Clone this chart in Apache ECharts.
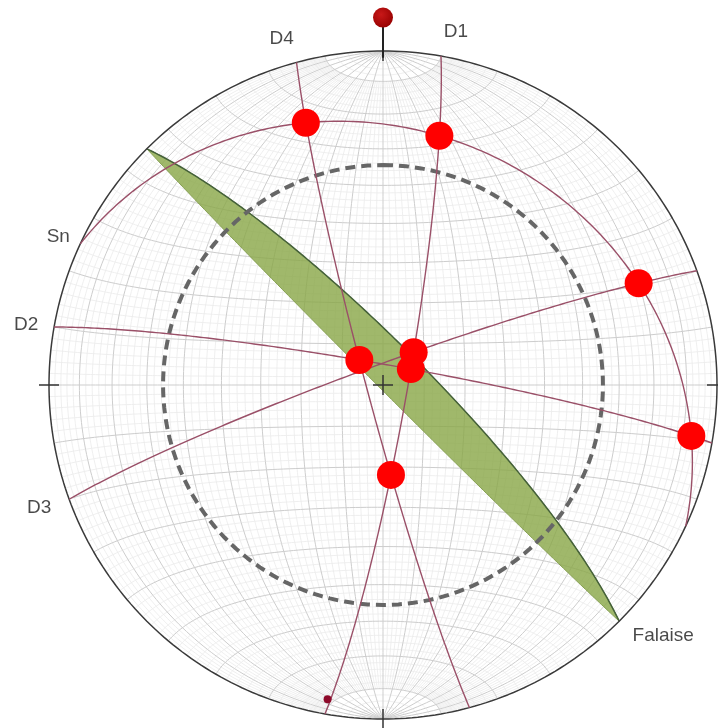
<!DOCTYPE html>
<html><head><meta charset="utf-8">
<script src="https://cdn.jsdelivr.net/npm/echarts/dist/echarts.min.js"></script>
<style>html,body{margin:0;padding:0;background:#fff}#chart{width:718px;height:728px}</style>
</head><body><div id="chart"></div>
<script>
// Discontinuity planes: dip direction / dip (degrees)
const planeNames   = ['D1', 'D2', 'D3', 'D4', 'Sn', 'Falaise'];
const planeDipDirs = [100, 10, 340, 255, 25, 45];
const planeDips    = [84, 85, 85, 86, 25, 80];

// Second boundary of the shaded slope zone (same strike as the slope face)
const zoneEdgeDipDir = 225;
const zoneEdgeDip = 89;

// Intersection lines plotted as large dots
const intersectionPairs = [
  ['D4', 'Sn'], ['D1', 'Sn'], ['D3', 'Sn'], ['D2', 'Sn'],
  ['D4', 'D2'], ['D1', 'D3'], ['D1', 'D2'], ['D1', 'D4']
];

// Single lineation: trend / plunge
const lineTrends = [190];
const linePlunges = [5];

// Friction angle (degrees) of the friction cone
const frictionAngle = 34.5;

// ---------- lower-hemisphere equal-area projection ----------
const D2R = Math.PI / 180;
function lineVec(trend, plunge) {
  const t = trend * D2R, p = plunge * D2R;
  return [Math.cos(p) * Math.sin(t), Math.cos(p) * Math.cos(t), Math.sin(p)]; // E, N, Down
}
function project(v) {
  let [e, n, d] = v;
  if (d < 0) { e = -e; n = -n; d = -d; }
  const h = Math.hypot(e, n);
  if (h < 1e-12) return [0, 0];
  const r = Math.SQRT2 * Math.sin(Math.acos(Math.min(1, d)) / 2);
  return [r * e / h, r * n / h];
}
function combo(a, b, ca, cb) { return [0, 1, 2].map(k => a[k] * ca + b[k] * cb); }
function greatCircle(dd, dip, n) {
  n = n || 180;
  const s = lineVec(dd - 90, 0), v = lineVec(dd, dip), pts = [];
  for (let i = 0; i <= n; i++) {
    const th = i / n * Math.PI;
    pts.push(project(combo(s, v, Math.cos(th), Math.sin(th))));
  }
  return pts;
}
function cross(a, b) { return [a[1]*b[2]-a[2]*b[1], a[2]*b[0]-a[0]*b[2], a[0]*b[1]-a[1]*b[0]]; }
function planeNormal(dd, dip) { return lineVec(dd + 180, 90 - dip); }

// ---------- reference net (Schmidt, N-S axis, 2 deg) ----------
const N = [0, 1, 0], E = [1, 0, 0], Dn = [0, 0, 1];
const fineNet = [], boldNet = [];
for (let a = 2; a < 180; a += 2) {
  // meridian: plane containing the N-S axis
  const w = combo(E, Dn, Math.cos(a * D2R), Math.sin(a * D2R));
  const bold = a % 10 === 0;
  const lo = bold ? 0 : 10, hi = bold ? 180 : 170;
  const mer = [];
  for (let t = lo; t <= hi; t += 1) mer.push(project(combo(N, w, Math.cos(t * D2R), Math.sin(t * D2R))));
  (bold ? boldNet : fineNet).push({ coords: mer });
  // parallel: small circle about the N-S axis
  const par = [];
  for (let f = 0; f <= 180; f += 1.5) {
    const ring = combo(E, Dn, Math.cos(f * D2R), Math.sin(f * D2R));
    par.push(project(combo(N, ring, Math.cos(a * D2R), Math.sin(a * D2R))));
  }
  (bold ? boldNet : fineNet).push({ coords: par });
}
const primitive = [];
for (let t = 0; t <= 360; t += 1) primitive.push([Math.sin(t * D2R), Math.cos(t * D2R)]);
const frictionCircle = [];
for (let t = 0; t <= 360; t += 2) frictionCircle.push(project(lineVec(t, frictionAngle)));

// ---------- derived geometry ----------
const circles = planeNames.map((nm, i) => greatCircle(planeDipDirs[i], planeDips[i]));
const idx = nm => planeNames.indexOf(nm);
const dots = intersectionPairs.map(([a, b]) => {
  const ia = idx(a), ib = idx(b);
  const v = cross(planeNormal(planeDipDirs[ia], planeDips[ia]), planeNormal(planeDipDirs[ib], planeDips[ib]));
  const L = Math.hypot(v[0], v[1], v[2]);
  return project([v[0] / L, v[1] / L, v[2] / L]);
});
const lineationPts = lineTrends.map((t, i) => project(lineVec(t, linePlunges[i])));
const fal = circles[idx('Falaise')];
const zoneEdge = greatCircle(zoneEdgeDipDir, zoneEdgeDip);
const zonePolygon = fal.concat(zoneEdge);

// label placement: which end of the trace, pixel offset
const labelLayout = {
  D1: { end: 0, offset: [15, -24] },
  D2: { end: 0, offset: [-28, -2] },
  D3: { end: 0, offset: [-30, 9] },
  D4: { end: 1, offset: [-15, -24] },
  Sn: { end: 0, offset: [-22, -7] },
  Falaise: { end: 1, offset: [44, 15] }
};
const labelData = planeNames.map((nm, i) => {
  const c = circles[i], L = labelLayout[nm];
  const p = L.end ? c[c.length - 1] : c[0];
  return { value: p, label: { formatter: nm, offset: L.offset } };
});

const tick = 0.03;
const ticks = [
  { coords: [[0, 1 - tick], [0, 1 + tick]] }, { coords: [[0, -1 - tick], [0, -1 + tick]] },
  { coords: [[-1 - tick, 0], [-1 + tick, 0]] }, { coords: [[1 - tick, 0], [1 + tick, 0]] },
  { coords: [[-tick, 0], [tick, 0]] }, { coords: [[0, -tick], [0, tick]] }
];

const series = [
  { type: 'lines', coordinateSystem: 'cartesian2d', polyline: true, silent: true, z: 1,
    lineStyle: { color: '#ebebeb', width: 0.8, opacity: 1 }, data: fineNet },
  { type: 'lines', coordinateSystem: 'cartesian2d', polyline: true, silent: true, z: 1,
    lineStyle: { color: '#cdcdcd', width: 1, opacity: 1 }, data: boldNet },
  { type: 'custom', z: 2, silent: true, data: [0],
    renderItem: (params, api) => ({
      type: 'polygon',
      shape: { points: zonePolygon.map(p => api.coord(p)) },
      style: { fill: 'rgba(136,166,70,0.8)', stroke: '#86a052', lineWidth: 1 }
    }) },
  { type: 'line', z: 3, silent: true, showSymbol: false, data: fal,
    lineStyle: { color: '#45613a', width: 1.5 } },
  { type: 'line', z: 4, silent: true, showSymbol: false, data: frictionCircle,
    lineStyle: { color: '#666666', width: 4, type: [10, 6] } },
  { type: 'line', z: 4, silent: true, showSymbol: false, data: primitive, clip: false,
    lineStyle: { color: '#3a3a3a', width: 1.5 } },
  { type: 'lines', coordinateSystem: 'cartesian2d', polyline: true, silent: true, z: 5, clip: false,
    lineStyle: { color: '#333333', width: 1.5, opacity: 1 }, data: ticks }
];
planeNames.forEach((nm, i) => {
  if (nm === 'Falaise') return;
  series.push({ type: 'line', name: nm, z: 5, silent: true, showSymbol: false, data: circles[i],
    lineStyle: { color: '#9a5068', width: 1.4 } });
});
series.push(
  { type: 'scatter', z: 8, silent: true, symbolSize: 28, data: dots,
    itemStyle: { color: '#ff0000', opacity: 1 } },
  { type: 'scatter', z: 8, silent: true, symbolSize: 8, data: lineationPts,
    itemStyle: { color: '#8e0a2a', opacity: 1 } },
  // north marker
  { type: 'lines', coordinateSystem: 'cartesian2d', polyline: true, silent: true, z: 6, clip: false,
    lineStyle: { color: '#222222', width: 2, opacity: 1 }, data: [{ coords: [[0, 0.98], [0, 1.1]] }] },
  { type: 'scatter', z: 9, silent: true, clip: false, symbolSize: 20, data: [[0, 1.1]],
    itemStyle: { opacity: 1, color: {
      type: 'radial', x: 0.4, y: 0.35, r: 0.7,
      colorStops: [{ offset: 0, color: '#c81818' }, { offset: 1, color: '#960000' }] } } },
  { type: 'scatter', z: 10, silent: true, clip: false, symbolSize: 0, data: labelData,
    label: { show: true, position: 'inside', color: '#1c1c1c', fontSize: 19,
      fontFamily: 'Liberation Sans, Arial, sans-serif' } }
);

const chart = echarts.init(document.getElementById('chart'), null, { renderer: 'canvas' });
chart.setOption({
  animation: false,
  backgroundColor: '#ffffff',
  grid: { left: 49, top: 51, width: 668, height: 668 },
  xAxis: { type: 'value', min: -1, max: 1, show: false },
  yAxis: { type: 'value', min: -1, max: 1, show: false },
  series
});
</script></body></html>
